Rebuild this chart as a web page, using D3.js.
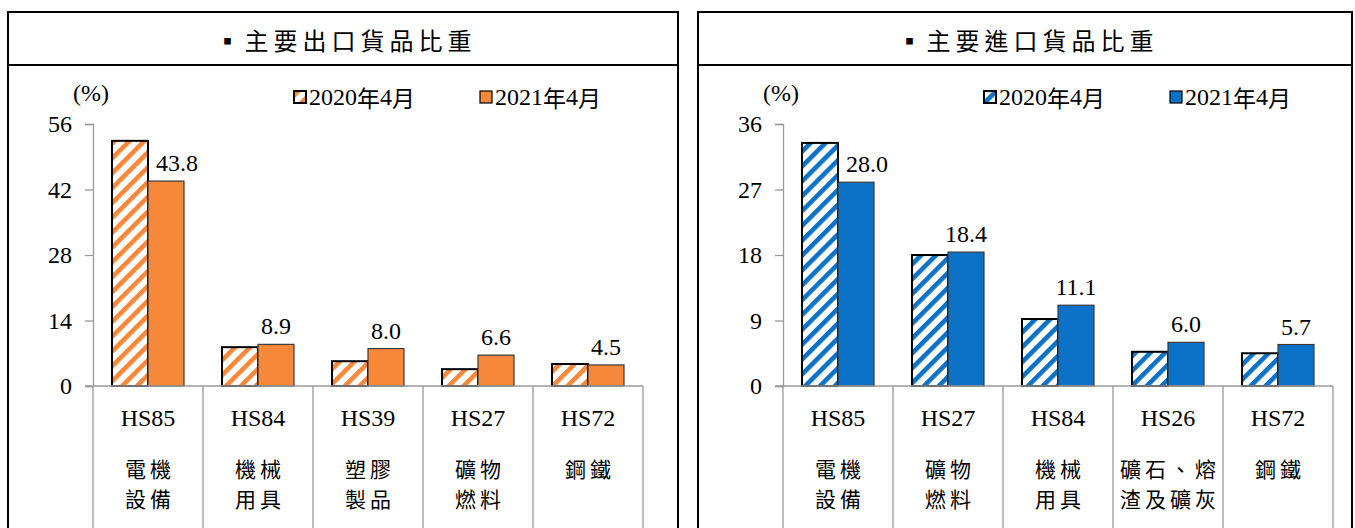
<!DOCTYPE html>
<html>
<head>
<meta charset="utf-8">
<script src="https://cdn.jsdelivr.net/npm/d3@7"></script>
<style>
html,body{margin:0;padding:0;background:#fff;}
svg{display:block;}
</style>
</head>
<body>
<svg id="chart" width="1355" height="528"></svg>
<script>
// ---- data ----
const seriesNames = ["2020年4月", "2021年4月"];

const exportTitle = "▪主要出口貨品比重";
const exportCodes = ["HS85", "HS84", "HS39", "HS27", "HS72"];
const exportNames = [["電機", "設備"], ["機械", "用具"], ["塑膠", "製品"], ["礦物", "燃料"], ["鋼鐵"]];
const export2020 = [52.4, 8.3, 5.3, 3.6, 4.7];
const export2021 = [43.8, 8.9, 8.0, 6.6, 4.5];
const exportTicks = [0, 14, 28, 42, 56];

const importTitle = "▪主要進口貨品比重";
const importCodes = ["HS85", "HS27", "HS84", "HS26", "HS72"];
const importNames = [["電機", "設備"], ["礦物", "燃料"], ["機械", "用具"], ["礦石、熔", "渣及礦灰"], ["鋼鐵"]];
const import2020 = [33.4, 18.0, 9.2, 4.7, 4.5];
const import2021 = [28.0, 18.4, 11.1, 6.0, 5.7];
const importTicks = [0, 9, 18, 27, 36];

// ---- drawing ----
const svg = d3.select("#chart");
const defs = svg.append("defs");
const SERIF = '"Liberation Serif"';
const CJK = '"Noto Sans CJK TC"';

function makePattern(id, color) {
  const p = defs.append("pattern")
    .attr("id", id)
    .attr("patternUnits", "userSpaceOnUse")
    .attr("width", 10.5).attr("height", 10.5)
    .attr("patternTransform", "rotate(45)");
  p.append("rect").attr("width", 10.5).attr("height", 10.5).attr("fill", "#fff");
  p.append("rect").attr("width", 4.6).attr("height", 10.5).attr("fill", color);
}

const CJK_RE = /[\u2E80-\u9FFF\uFF00-\uFFEF\u3000-\u303F]/;
function mixedText(sel, str) {
  const parts = str.match(/[\u2E80-\u9FFF\uFF00-\uFFEF\u3000-\u303F]+|[^\u2E80-\u9FFF\uFF00-\uFFEF\u3000-\u303F]+/g) || [];
  parts.forEach(p => {
    const cjk = CJK_RE.test(p);
    sel.append("tspan").style("font-family", cjk ? CJK : SERIF)
      .style("font-size", (cjk ? 23 : 24) + "px").text(p);
  });
}

function drawPanel(cfg) {
  const { x0, x1, title, codes, names, v2020, v2021, ticks, color, patId } = cfg;
  makePattern(patId, color);
  const g = svg.append("g");
  const top = 12, titleLine = 65;
  const axisX = x0 + 85, axisEnd = axisX + 550;
  const yBase = 386, yTop = 124;

  // frame
  g.append("rect").attr("x", x0).attr("y", top).attr("width", x1 - x0).attr("height", 560)
    .attr("fill", "none").attr("stroke", "#000").attr("stroke-width", 2);
  g.append("line").attr("x1", x0).attr("x2", x1).attr("y1", titleLine).attr("y2", titleLine)
    .attr("stroke", "#000").attr("stroke-width", 2);
  g.append("text").attr("x", (x0 + x1) / 2 + 3).attr("y", 39)
    .attr("text-anchor", "middle").attr("dominant-baseline", "central")
    .style("font-family", CJK).style("font-size", "24px").style("letter-spacing", "5px")
    .attr("fill", "#000").text(title);

  const x = d3.scaleBand().domain(codes).range([axisX, axisEnd]).padding(0);
  const xs = d3.scaleBand().domain(seriesNames).range([19, x.bandwidth() - 19]).padding(0);
  const y = d3.scaleLinear().domain([ticks[0], ticks[ticks.length - 1]]).range([yBase, yTop]);

  // y axis
  const yAxis = d3.axisLeft(y).tickValues(ticks).tickSize(8).tickPadding(13).tickFormat(d3.format("d"));
  const ya = g.append("g").attr("transform", `translate(${axisX},0)`).call(yAxis);
  ya.select(".domain").attr("stroke", "#9a9a9a").attr("stroke-width", 1.3);
  ya.selectAll(".tick line").attr("stroke", "#9a9a9a").attr("stroke-width", 1.3);
  ya.selectAll(".tick text").style("font-family", SERIF).style("font-size", "24px").attr("fill", "#000");

  // "(%)"
  g.append("text").attr("x", x0 + 83).attr("y", 93).attr("text-anchor", "middle")
    .attr("dominant-baseline", "central").style("font-family", SERIF).style("font-size", "24px").text("(%)");

  // bars
  const rows = codes.map((c, i) => ({ code: c, a: v2020[i], b: v2021[i], names: names[i] }));
  const bw = xs.bandwidth();
  g.selectAll("rect.b20").data(rows).join("rect").attr("class", "b20")
    .attr("x", d => x(d.code) + xs(seriesNames[0]))
    .attr("y", d => y(d.a)).attr("width", bw).attr("height", d => yBase - y(d.a))
    .attr("fill", `url(#${patId})`).attr("stroke", "#000").attr("stroke-width", 2);
  g.selectAll("rect.b21").data(rows).join("rect").attr("class", "b21")
    .attr("x", d => x(d.code) + xs(seriesNames[1]))
    .attr("y", d => y(d.b)).attr("width", bw).attr("height", d => yBase - y(d.b))
    .attr("fill", color).attr("stroke", "#3a3a3a").attr("stroke-width", 1.2);

  // value labels
  g.selectAll("text.val").data(rows).join("text").attr("class", "val")
    .attr("x", d => {
      const base = x(d.code) + xs(seriesNames[1]) + bw / 2;
      return y(d.a) < y(d.b) - 10 ? base + 11 : base;
    })
    .attr("y", d => y(d.b) - 10)
    .attr("text-anchor", "middle").style("font-family", SERIF).style("font-size", "24px")
    .attr("fill", "#000").text(d => d3.format(".1f")(d.b));

  // x axis line and separators
  g.append("line").attr("x1", axisX - 8).attr("x2", axisEnd).attr("y1", yBase).attr("y2", yBase)
    .attr("stroke", "#9a9a9a").attr("stroke-width", 1.3);
  const seps = codes.map(c => x(c)).concat([axisEnd]);
  g.selectAll("line.sep").data(seps).join("line").attr("class", "sep")
    .attr("x1", d => d).attr("x2", d => d).attr("y1", yBase).attr("y2", 540)
    .attr("stroke", "#9a9a9a").attr("stroke-width", 1.3);

  // category labels
  const cx = d => x(d.code) + x.bandwidth() / 2;
  g.selectAll("text.code").data(rows).join("text").attr("class", "code")
    .attr("x", cx).attr("y", 418).attr("text-anchor", "middle").attr("dominant-baseline", "central")
    .style("font-family", SERIF).style("font-size", "24px").attr("fill", "#000").text(d => d.code);
  rows.forEach(d => {
    d.names.forEach((nm, li) => {
      g.append("text").attr("x", cx(d) + 2).attr("y", 468 + li * 30)
        .attr("text-anchor", "middle").attr("dominant-baseline", "central")
        .style("font-family", CJK).style("font-size", "21px").style("letter-spacing", "4px")
        .attr("fill", "#000").text(nm);
    });
  });

  // legend
  const legX = [x0 + 286, x0 + 472];
  seriesNames.forEach((s, i) => {
    g.append("rect").attr("x", legX[i]).attr("y", 91).attr("width", 12).attr("height", 12)
      .attr("fill", i === 0 ? `url(#${patId})` : color)
      .attr("stroke", "#000").attr("stroke-width", i === 0 ? 2 : 1.2);
    const t = g.append("text").attr("x", legX[i] + 15).attr("y", 97).attr("dominant-baseline", "central")
      .attr("fill", "#000");
    mixedText(t, s);
  });
}

drawPanel({ x0: 8, x1: 678, title: exportTitle, codes: exportCodes, names: exportNames,
  v2020: export2020, v2021: export2021, ticks: exportTicks, color: "#F7883A", patId: "hatchOrange" });
drawPanel({ x0: 698, x1: 1352, title: importTitle, codes: importCodes, names: importNames,
  v2020: import2020, v2021: import2021, ticks: importTicks, color: "#0B72C8", patId: "hatchBlue" });
</script>
</body>
</html>
